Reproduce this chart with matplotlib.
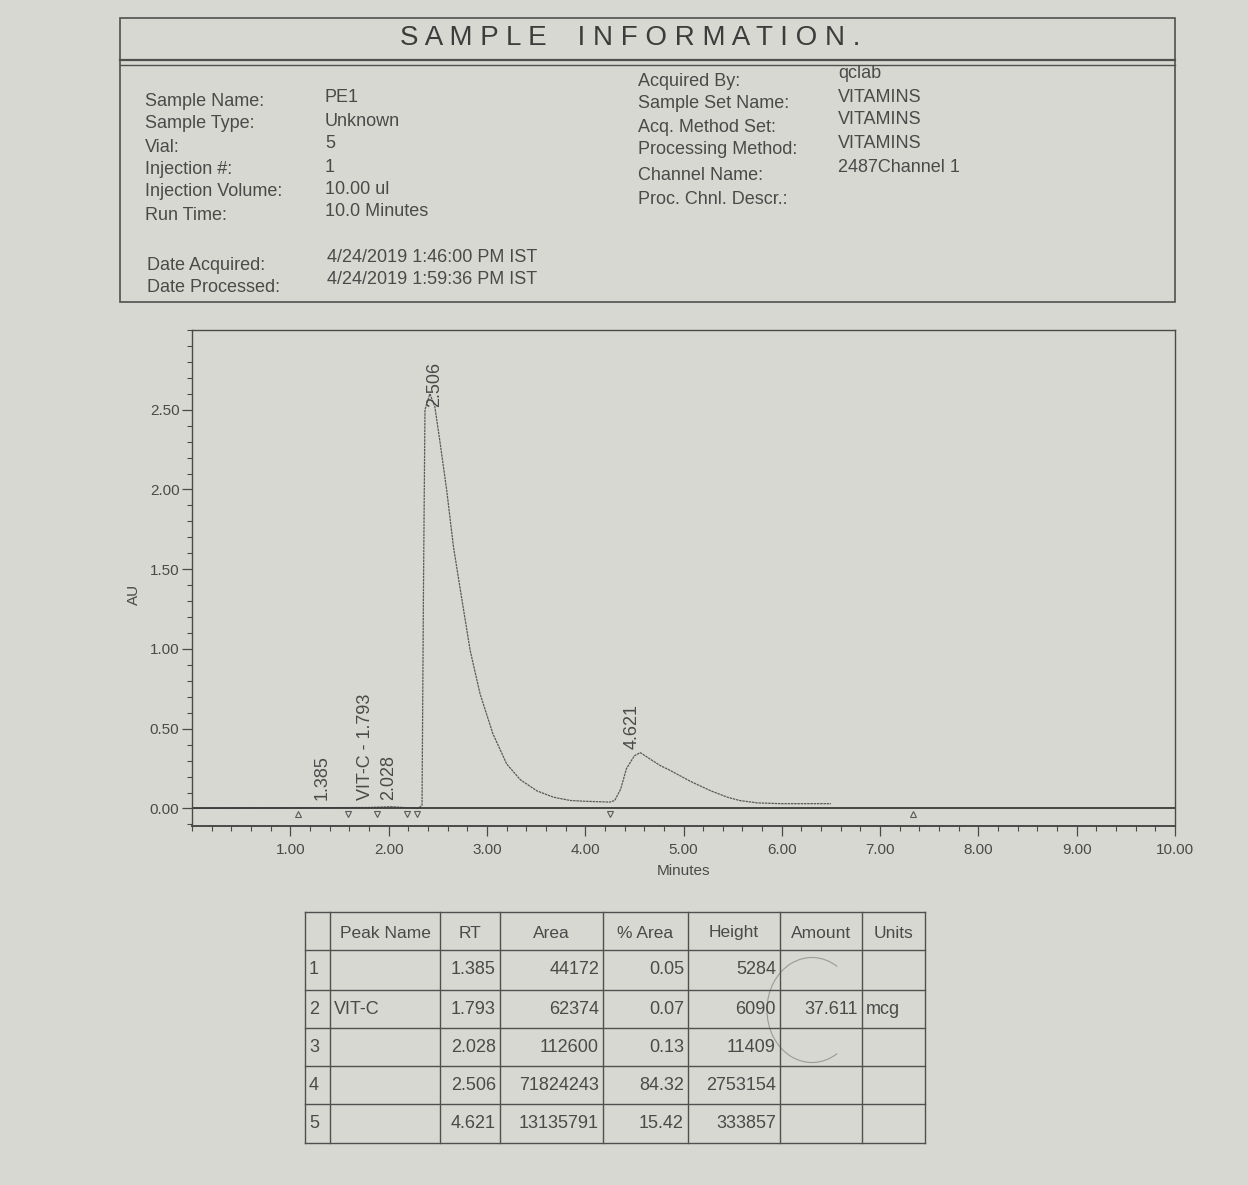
import matplotlib
matplotlib.use("Agg")
import matplotlib.pyplot as plt
from matplotlib.ticker import MultipleLocator, FormatStrFormatter
from matplotlib.patches import Rectangle, Arc

plt.rcParams['font.family'] = ['Liberation Sans', 'DejaVu Sans']

# ---------------- data ----------------
info_left_labels = ["Sample Name:", "Sample Type:", "Vial:", "Injection #:", "Injection Volume:", "Run Time:"]
info_left_values = ["PE1", "Unknown", "5", "1", "10.00 ul", "10.0 Minutes"]
date_labels = ["Date Acquired:", "Date Processed:"]
date_values = ["4/24/2019 1:46:00 PM IST", "4/24/2019 1:59:36 PM IST"]
info_right_labels = ["Acquired By:", "Sample Set Name:", "Acq. Method Set:", "Processing Method:", "Channel Name:", "Proc. Chnl. Descr.:"]
info_right_values = ["qclab", "VITAMINS", "VITAMINS", "VITAMINS", "2487Channel 1", ""]

time_min = [0.00, 1.38, 1.79, 2.03, 2.30, 2.34, 2.355, 2.37, 2.42, 2.47, 2.52, 2.59, 2.66, 2.73,
            2.83, 2.93, 3.06, 3.20, 3.34, 3.51, 3.68, 3.85, 4.00, 4.25, 4.30, 4.36, 4.42, 4.50,
            4.56, 4.66, 4.76, 4.86, 5.07, 5.28, 5.45, 5.57, 5.75, 5.99, 6.50]
absorb_au = [0.00, 0.005, 0.006, 0.011, 0.00, 0.02, 1.40, 2.50, 2.60, 2.52, 2.31, 2.00, 1.64, 1.37,
             0.99, 0.72, 0.47, 0.28, 0.18, 0.11, 0.07, 0.05, 0.045, 0.04, 0.05, 0.12, 0.25, 0.33,
             0.35, 0.31, 0.27, 0.24, 0.17, 0.11, 0.07, 0.05, 0.035, 0.03, 0.03]

peak_labels = ["1.385", "VIT-C - 1.793", "2.028", "2.506", "4.621"]
peak_label_x = [1.32, 1.77, 2.00, 2.47, 4.48]
peak_label_y = [0.05, 0.05, 0.05, 2.52, 0.37]

marker_times = [1.08, 1.59, 1.88, 2.19, 2.29, 4.25, 7.33]
marker_kinds = ["^", "v", "v", "v", "v", "v", "^"]

table_header = ["", "Peak Name", "RT", "Area", "% Area", "Height", "Amount", "Units"]
peak_index = ["1", "2", "3", "4", "5"]
peak_name = ["", "VIT-C", "", "", ""]
peak_rt = ["1.385", "1.793", "2.028", "2.506", "4.621"]
peak_area = ["44172", "62374", "112600", "71824243", "13135791"]
peak_pct_area = ["0.05", "0.07", "0.13", "84.32", "15.42"]
peak_height = ["5284", "6090", "11409", "2753154", "333857"]
peak_amount = ["", "37.611", "", "", ""]
peak_units = ["", "mcg", "", "", ""]

# ---------------- style ----------------
PAPER = "#d8d8d2"
INK = "#4a4a4a"
LINE = "#505050"

fig = plt.figure(figsize=(12.48, 11.85), dpi=100, facecolor=PAPER)

bg = fig.add_axes([0, 0, 1, 1])
bg.set_xlim(0, 1248)
bg.set_ylim(1185, 0)
bg.axis("off")
bg.set_facecolor(PAPER)

# header box
bg.add_patch(Rectangle((120, 18), 1055, 284, fill=False, ec=LINE, lw=1.2))
bg.plot([120, 1175], [60, 60], color=LINE, lw=1.6)
bg.plot([120, 1175], [65, 65], color=LINE, lw=1.0)
bg.text(630, 38, "S A M P L E    I N F O R M A T I O N .", ha="center", va="center",
        fontsize=20, color="#3c3c3c")

HF = 13
ys_left = [101, 124, 147, 170, 192, 215]
for lab, val, y in zip(info_left_labels, info_left_values, ys_left):
    bg.text(145, y, lab, ha="left", va="center", fontsize=HF, color=INK)
    bg.text(325, y - 3, val, ha="left", va="center", fontsize=HF, color=INK)
for lab, val, y in zip(date_labels, date_values, [265, 288]):
    bg.text(147, y, lab, ha="left", va="center", fontsize=HF, color=INK)
    bg.text(327, y - 8, val, ha="left", va="center", fontsize=HF, color=INK)
ys_right = [81, 104, 127, 150, 175, 199]
for lab, val, y in zip(info_right_labels, info_right_values, ys_right):
    bg.text(638, y, lab, ha="left", va="center", fontsize=HF, color=INK)
    bg.text(838, y - 7, val, ha="left", va="center", fontsize=HF, color=INK)

# ---------------- chromatogram ----------------
L, R, T, B = 192, 1175, 330, 826
ax = fig.add_axes([L / 1248, 1 - B / 1185, (R - L) / 1248, (B - T) / 1185])
ax.set_facecolor("none")
ax.set_xlim(0, 10)
ax.set_ylim(-0.11, 3.0)
ax.plot(time_min, absorb_au, color="#5a5a5a", lw=0.9, ls=(0, (2, 0.6)))
ax.axhline(0, color="#3a3a3a", lw=1.3)
for t, k in zip(marker_times, marker_kinds):
    ax.plot([t], [-0.035], marker=k, ms=4.5, mfc="none", mec="#5a5a5a", mew=0.8)
for txt, x, y in zip(peak_labels, peak_label_x, peak_label_y):
    ax.text(x, y, txt, rotation=90, ha="center", va="bottom", fontsize=13, color="#4a4a4a")

ax.xaxis.set_major_locator(MultipleLocator(1))
ax.xaxis.set_minor_locator(MultipleLocator(0.2))
ax.yaxis.set_major_locator(MultipleLocator(0.5))
ax.yaxis.set_minor_locator(MultipleLocator(0.1))
ax.xaxis.set_major_formatter(FormatStrFormatter("%.2f"))
ax.yaxis.set_major_formatter(FormatStrFormatter("%.2f"))
ax.set_xticks([t for t in ax.get_xticks() if 1 <= t <= 10])
ax.set_yticks([0, 0.5, 1.0, 1.5, 2.0, 2.5])
ax.tick_params(axis="both", which="major", direction="out", length=7, width=0.9,
               colors="#4a4a4a", labelsize=11, pad=2)
ax.tick_params(axis="both", which="minor", direction="out", length=3.5, width=0.8, colors="#4a4a4a")
ax.tick_params(axis="x", pad=5)
for s in ax.spines.values():
    s.set_color("#4a4a4a")
    s.set_linewidth(1.0)
ax.spines["bottom"].set_linewidth(1.4)
ax.set_xlabel("Minutes", fontsize=11, color=INK, labelpad=5)
ax.set_ylabel("AU", fontsize=11, color=INK)
ax.yaxis.set_label_coords(-0.052, 0.466)

# ---------------- peak table ----------------
col_edges = [305, 330, 440, 500, 603, 688, 780, 862, 925]
row_edges = [912, 950, 990, 1028, 1066, 1104, 1143]
for x in col_edges:
    bg.plot([x, x], [row_edges[0], row_edges[-1]], color=LINE, lw=1.0)
for y in row_edges:
    bg.plot([col_edges[0], col_edges[-1]], [y, y], color=LINE, lw=1.0)

for i, h in enumerate(table_header):
    cx = (col_edges[i] + col_edges[i + 1]) / 2
    bg.text(cx, (row_edges[0] + row_edges[1]) / 2 + 2, h, ha="center", va="center",
            fontsize=12.5, color=INK)

columns = [peak_index, peak_name, peak_rt, peak_area, peak_pct_area, peak_height, peak_amount, peak_units]
align = ["left", "left", "right", "right", "right", "right", "right", "left"]
for r in range(len(peak_index)):
    cy = (row_edges[r + 1] + row_edges[r + 2]) / 2
    for c, col in enumerate(columns):
        if align[c] == "left":
            x, ha = col_edges[c] + 4, "left"
        else:
            x, ha = col_edges[c + 1] - 4, "right"
        bg.text(x, cy, col[r], ha=ha, va="center", fontsize=13, color=INK)

# faint pencil circle around the amount cell
bg.add_patch(Arc((812, 1010), 90, 105, theta1=60, theta2=300, color="#9a9a9a", lw=0.8))

fig.savefig("out.png", dpi=100, facecolor=PAPER)
